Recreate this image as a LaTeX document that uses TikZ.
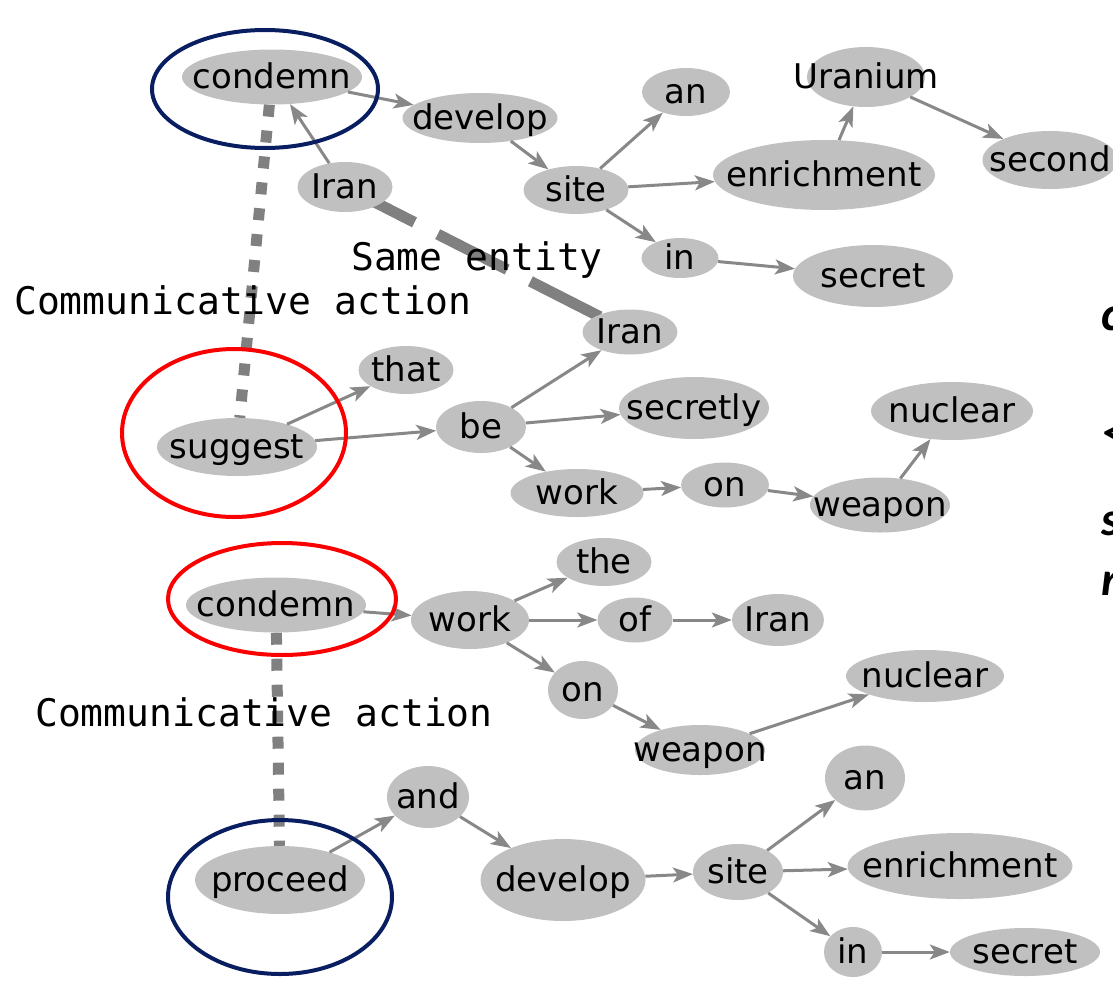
\documentclass[tikz,border=0pt]{standalone}
\usepackage{fontspec}
\setmainfont{DejaVu Sans}
\newfontfamily\nfont{DejaVu Sans}
\newfontfamily\mfont{DejaVu Sans Mono}
\newfontfamily\cfont{Carlito}
\usetikzlibrary{shapes.geometric,arrows.meta,backgrounds}
\definecolor{ngray}{RGB}{192,192,192}
\definecolor{agray}{RGB}{136,136,136}
\definecolor{dgray}{RGB}{128,128,128}
\definecolor{navyc}{RGB}{8,30,96}
\definecolor{redc}{RGB}{250,0,0}
\newcommand{\wtxt}[1]{\makebox[0pt]{\raisebox{-0.33em}[0pt][0pt]{#1}}}
\begin{document}
\begin{tikzpicture}[x=1pt,y=-1pt,
  w/.style 2 args={ellipse, fill=ngray, inner sep=0pt, minimum width=#1pt, minimum height=#2pt, font=\nfont\fontsize{34}{40}\selectfont},
  arr/.style={draw=agray, line width=3pt, -{Stealth[length=20pt,width=15pt,inset=5pt]}},
  comm/.style={draw=dgray, line width=11pt, dash pattern=on 12pt off 14pt},
  same/.style={draw=dgray, line width=11pt, dash pattern=on 78pt off 26pt},
  lbl/.style={inner sep=0pt, font=\mfont\fontsize{38}{44}\selectfont},
  frag/.style={inner sep=0pt, font=\cfont\bfseries\itshape\fontsize{48}{56}\selectfont},
  ring/.style={line width=4pt}]
\useasboundingbox (0,0) rectangle (1113,980);
\clip (0,0) rectangle (1113,980);
% block 1
\node[w={180}{55}] (condemnA) at (272,77) {\wtxt{condemn}};
\node[w={155}{50}] (developA) at (480,118) {\wtxt{develop}};
\node[w={95}{50}] (iranA) at (345,187) {\wtxt{Iran}};
\node[w={105}{48}] (siteA) at (576,190) {\wtxt{site}};
\node[w={88}{48}] (anA) at (686,92) {\wtxt{an}};
\node[w={118}{60}] (uranium) at (866,77) {\wtxt{Uranium}};
\node[w={222}{70}] (enrichA) at (824,175) {\wtxt{enrichment}};
\node[w={135}{58}] (second) at (1050,160) {\wtxt{second}};
\node[w={77}{40}] (inA) at (680,258) {\wtxt{in}};
\node[w={160}{62}] (secretA) at (873,276) {\wtxt{secret}};
% block 2
\node[w={95}{45}] (iranB) at (630,332) {\wtxt{Iran}};
\node[w={95}{48}] (that) at (406,370) {\wtxt{that}};
\node[w={160}{58}] (suggest) at (237,447) {\wtxt{suggest}};
\node[w={90}{52}] (be) at (481,427) {\wtxt{be}};
\node[w={150}{62}] (secretly) at (694,408) {\wtxt{secretly}};
\node[w={162}{58}] (nuclearA) at (952,411) {\wtxt{nuclear}};
\node[w={133}{48}] (workA) at (577,493) {\wtxt{work}};
\node[w={88}{45}] (onA) at (725,485) {\wtxt{on}};
\node[w={140}{55}] (weaponA) at (880,505) {\wtxt{weapon}};
% block 3
\node[w={180}{55}] (condemnB) at (276,605) {\wtxt{condemn}};
\node[w={118}{58}] (workB) at (470,620) {\wtxt{work}};
\node[w={95}{48}] (the) at (604,562) {\wtxt{the}};
\node[w={75}{45}] (of) at (635,620) {\wtxt{of}};
\node[w={92}{52}] (iranC) at (778,620) {\wtxt{Iran}};
\node[w={70}{58}] (onB) at (583,690) {\wtxt{on}};
\node[w={130}{50}] (weaponB) at (700,750) {\wtxt{weapon}};
\node[w={158}{52}] (nuclearB) at (925,676) {\wtxt{nuclear}};
% block 4
\node[w={170}{68}] (proceed) at (280,880) {\wtxt{proceed}};
\node[w={82}{62}] (and) at (428,797) {\wtxt{and}};
\node[w={165}{82}] (developB) at (563,880) {\wtxt{develop}};
\node[w={90}{56}] (siteB) at (738,872) {\wtxt{site}};
\node[w={80}{65}] (anB) at (865,778) {\wtxt{an}};
\node[w={225}{66}] (enrichB) at (960,866) {\wtxt{enrichment}};
\node[w={58}{50}] (inB) at (853,952) {\wtxt{in}};
\node[w={150}{48}] (secretB) at (1025,952) {\wtxt{secret}};
% dashed relations behind nodes
\begin{scope}[on background layer]
\draw[comm] (condemnA) -- (suggest);
\draw[comm] (condemnB) -- (proceed);
\draw[same] (iranA.center) -- (iranB.center);
\end{scope}
% labels
\node[lbl] (commA) at (243,300) {Communicative action};
\node[lbl] (sameent) at (477,260) {Same entity};
\node[lbl] (commB) at (264,712) {Communicative action};
% arrows block 1
\draw[arr] (condemnA) -- (developA);
\draw[arr] (iranA) -- (condemnA);
\draw[arr] (developA) -- (siteA);
\draw[arr] (siteA) -- (anA);
\draw[arr] (siteA) -- (enrichA);
\draw[arr] (siteA) -- (inA);
\draw[arr] (enrichA) -- (uranium);
\draw[arr] (uranium) -- (second);
\draw[arr] (inA) -- (secretA);
% arrows block 2
\draw[arr] (suggest) -- (that);
\draw[arr] (suggest) -- (be);
\draw[arr] (be) -- (iranB);
\draw[arr] (be) -- (secretly);
\draw[arr] (be) -- (workA);
\draw[arr] (workA) -- (onA);
\draw[arr] (onA) -- (weaponA);
\draw[arr] (weaponA) -- (nuclearA);
% arrows block 3
\draw[arr] (condemnB) -- (workB);
\draw[arr] (workB) -- (the);
\draw[arr] (workB) -- (of);
\draw[arr] (of) -- (iranC);
\draw[arr] (workB) -- (onB);
\draw[arr] (onB) -- (weaponB);
\draw[arr] (weaponB) -- (nuclearB);
% arrows block 4
\draw[arr] (proceed) -- (and);
\draw[arr] (and) -- (developB);
\draw[arr] (developB) -- (siteB);
\draw[arr] (siteB) -- (anB);
\draw[arr] (siteB) -- (enrichB);
\draw[arr] (siteB) -- (inB);
\draw[arr] (inB) -- (secretB);
% highlight rings
\draw[ring, navyc] (265,89) ellipse [x radius=113pt, y radius=59pt];
\draw[ring, redc] (234,433) ellipse [x radius=112pt, y radius=84pt];
\draw[ring, redc] (282,599) ellipse [x radius=114pt, y radius=56pt];
\draw[ring, navyc] (280,897) ellipse [x radius=112pt, y radius=77pt];
% cut-off text at right edge (cut in the reference too)
\node[frag, anchor=base west] (fragc) at (1101,330) {c};
\node[frag, anchor=base west] (fraglt) at (1101,448) {<};
\node[frag, anchor=base west] (frags) at (1101,535) {s};
\node[frag, anchor=base west] (fragr) at (1101,595) {r};
\end{tikzpicture}
\end{document}
